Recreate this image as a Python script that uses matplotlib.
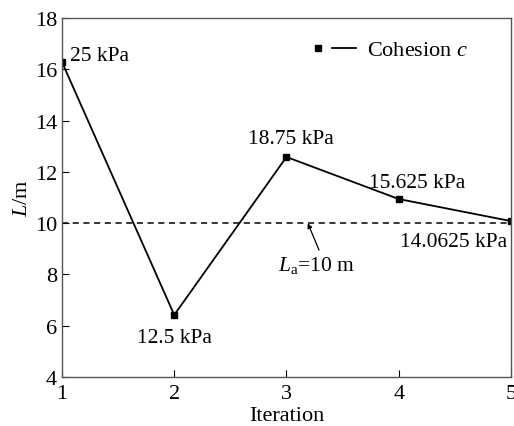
import matplotlib.pyplot as plt
from matplotlib.lines import Line2D
from matplotlib.legend_handler import HandlerTuple

plt.rcParams["font.family"] = ["Liberation Serif", "DejaVu Serif"]
plt.rcParams["mathtext.fontset"] = "custom"
plt.rcParams["mathtext.rm"] = "Liberation Serif"
plt.rcParams["mathtext.it"] = "Liberation Serif:italic"

iterations = [1, 2, 3, 4, 5]
lengths = [16.28, 6.42, 12.58, 10.94, 10.08]
labels = ["25 kPa", "12.5 kPa", "18.75 kPa", "15.625 kPa", "14.0625 kPa"]
label_pos = [(1.07, 16.55), (2.0, 5.55), (3.04, 13.3), (4.16, 11.6), (4.49, 9.3)]
label_ha = ["left", "center", "center", "center", "center"]
allow_length = 10

fig = plt.figure(figsize=(5.14, 4.27), dpi=100)
ax = fig.add_axes([0.1206, 0.1148, 0.8735, 0.8407])

ax.plot(iterations, lengths, color="black", lw=1.3, marker="s", ms=5)
ax.axhline(allow_length, color="black", lw=1.1, ls=(0, (4, 3)))

for txt, (x, y), ha in zip(labels, label_pos, label_ha):
    ax.text(x, y, txt, ha=ha, va="center", fontsize=15.5)

# allowable length marker
ax.annotate("", xy=(3.19, 10.0), xytext=(3.29, 8.95),
            arrowprops=dict(arrowstyle="-|>", color="black", lw=0.9,
                            mutation_scale=7, shrinkA=0, shrinkB=0))
ax.text(3.27, 8.4, "$L_{\\mathrm{a}}$=10 m", ha="center", va="center",
        fontsize=15.5)

ax.set_xlim(1, 5)
ax.set_ylim(4, 18)
ax.set_xticks(iterations)
ax.set_yticks([4, 6, 8, 10, 12, 14, 16, 18])
ax.tick_params(direction="in", length=5, labelsize=16, top=False, right=False)
ax.tick_params(axis="x", pad=5)
ax.set_xlabel("Iteration", fontsize=16, labelpad=2)
ax.set_ylabel("$L$/m", fontsize=16, labelpad=2)
for s in ax.spines.values():
    s.set_color("#555555")
    s.set_linewidth(1.0)

mark = Line2D([], [], color="black", marker="s", ms=5, ls="none")
seg = Line2D([], [], color="black", lw=1.3)
ax.legend([(mark, seg)], ["Cohesion $c$"], loc="upper right", frameon=False,
          fontsize=16, handlelength=2.2, borderaxespad=0, handletextpad=0.5,
          bbox_to_anchor=(0.924, 0.964),
          handler_map={tuple: HandlerTuple(ndivide=None, pad=0.1)})

fig.savefig("out.png", dpi=100)
